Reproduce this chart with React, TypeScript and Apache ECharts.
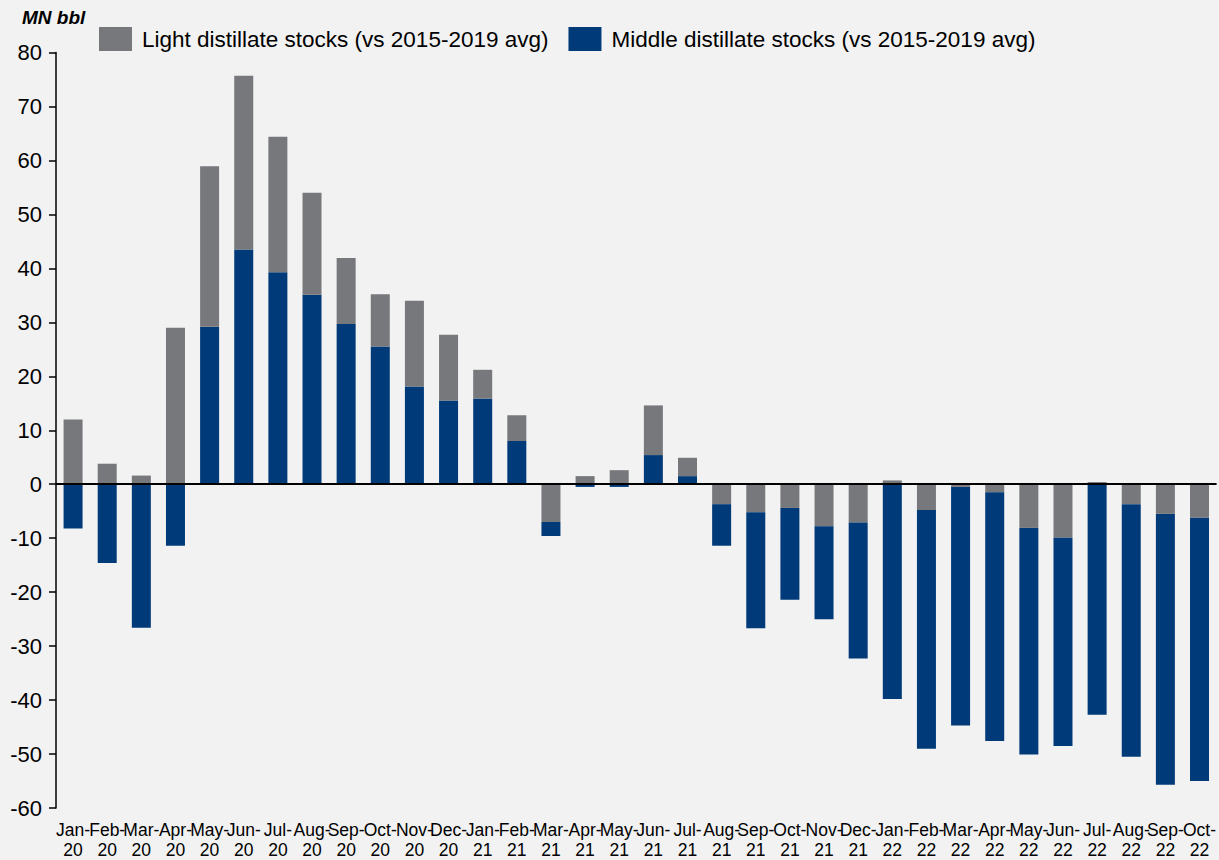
import React, { useEffect, useRef } from "react";
import * as echarts from "echarts";

const months = [
  "Jan-20", "Feb-20", "Mar-20", "Apr-20", "May-20", "Jun-20", "Jul-20", "Aug-20", "Sep-20", "Oct-20", "Nov-20", "Dec-20",
  "Jan-21", "Feb-21", "Mar-21", "Apr-21", "May-21", "Jun-21", "Jul-21", "Aug-21", "Sep-21", "Oct-21", "Nov-21", "Dec-21",
  "Jan-22", "Feb-22", "Mar-22", "Apr-22", "May-22", "Jun-22", "Jul-22", "Aug-22", "Sep-22", "Oct-22",
];

const lightDistillate = [
  12.0, 3.8, 1.6, 29.0, 29.7, 32.2, 25.1, 18.9, 12.2, 9.7, 15.9, 12.2,
  5.3, 4.8, -7.0, 1.5, 2.6, 9.2, 3.4, -3.7, -5.2, -4.4, -7.8, -7.1,
  0.7, -4.8, -0.5, -1.5, -8.1, -9.9, 0.4, -3.7, -5.5, -6.2,
];

const middleDistillate = [
  -8.2, -14.6, -26.6, -11.4, 29.2, 43.5, 39.3, 35.1, 29.7, 25.5, 18.1, 15.5,
  15.9, 8.0, -2.6, -0.5, -0.5, 5.4, 1.5, -7.7, -21.5, -17.0, -17.2, -25.2,
  -39.8, -44.2, -44.2, -46.1, -42.0, -38.6, -42.7, -46.8, -50.2, -48.8,
];

const yTicks = { min: -60, max: 80, interval: 10 };

const LIGHT_NAME = "Light distillate stocks (vs 2015-2019 avg)";
const MIDDLE_NAME = "Middle distillate stocks (vs 2015-2019 avg)";
const GRAY = "#77787c";
const NAVY = "#003a79";
const FONT = "'Liberation Sans', Arial, sans-serif";

export default function App() {
  const ref = useRef<HTMLDivElement>(null);

  useEffect(() => {
    if (!ref.current) return;
    const chart = echarts.init(ref.current, null, { renderer: "svg" });
    const grayNeg = lightDistillate.map((v) => (v < 0 ? v : "-"));
    const grayPos = lightDistillate.map((v) => (v >= 0 ? v : "-"));

    chart.setOption({
      animation: false,
      backgroundColor: "#f2f2f2",
      textStyle: { fontFamily: FONT },
      graphic: [
        {
          type: "text",
          left: 22,
          top: 8,
          style: {
            text: "MN bbl",
            font: `italic bold 19px ${FONT}`,
            fill: "#000",
          },
        },
      ],
      legend: {
        data: [LIGHT_NAME, MIDDLE_NAME],
        left: 99,
        top: 27,
        padding: 0,
        itemWidth: 33,
        itemHeight: 24,
        itemGap: 20,
        icon: "rect",
        textStyle: { fontSize: 22.5, color: "#000", fontFamily: FONT, padding: [0, 0, 0, 5] },
      },
      grid: { left: 56, top: 52.5, width: 1164, height: 758.5, containLabel: false },
      xAxis: {
        type: "category",
        data: months,
        axisLine: { show: false, onZero: false },
        axisTick: { show: false },
        axisLabel: {
          interval: 0,
          margin: 12,
          fontSize: 17.5,
          lineHeight: 20,
          color: "#000",
          fontFamily: FONT,
          formatter: (v: string) => v.replace("-", "-\n"),
        },
      },
      yAxis: {
        type: "value",
        min: yTicks.min,
        max: yTicks.max,
        interval: yTicks.interval,
        axisLine: { show: true, lineStyle: { color: "#000", width: 1.5 } },
        axisTick: { show: true, length: 7, lineStyle: { color: "#000", width: 1.5 } },
        splitLine: { show: false },
        axisLabel: { fontSize: 22, color: "#000", margin: 14, fontFamily: FONT },
      },
      series: [
        {
          name: LIGHT_NAME,
          type: "bar",
          stack: "s",
          barWidth: 19,
          data: grayNeg,
          itemStyle: { color: GRAY },
        },
        {
          name: MIDDLE_NAME,
          type: "bar",
          stack: "s",
          barWidth: 19,
          data: middleDistillate,
          itemStyle: { color: NAVY },
          markLine: {
            silent: true,
            symbol: "none",
            label: { show: false },
            lineStyle: { color: "#000", width: 2, type: "solid" },
            data: [{ yAxis: 0 }],
          },
        },
        {
          name: LIGHT_NAME,
          type: "bar",
          stack: "s",
          barWidth: 19,
          data: grayPos,
          itemStyle: { color: GRAY },
        },
      ],
    });
    return () => chart.dispose();
  }, []);

  return (
    <div
      ref={ref}
      style={{ position: "fixed", left: 0, top: 0, width: 1219, height: 860 }}
    />
  );
}
